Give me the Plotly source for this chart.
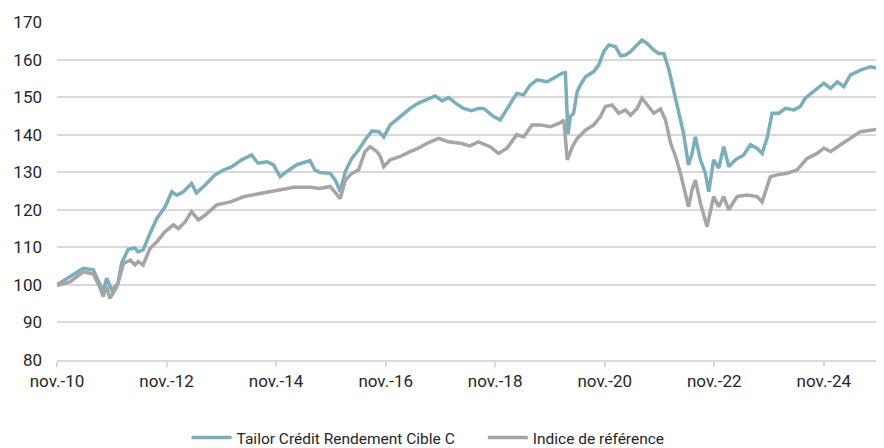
import plotly.graph_objects as go

fund_dates = ["2010-11-01","2011-01-26","2011-04-25","2011-07-01","2011-08-03","2011-09-05","2011-09-28","2011-11-01","2011-12-13","2012-01-06","2012-02-19","2012-04-04","2012-04-25","2012-05-28","2012-07-13","2012-08-28","2012-10-22","2012-12-06","2013-01-07","2013-02-21","2013-04-16","2013-05-19","2013-07-16","2013-09-19","2013-11-16","2014-01-10","2014-03-16","2014-05-22","2014-07-04","2014-09-01","2014-10-13","2014-11-28","2015-01-12","2015-03-19","2015-06-15","2015-07-18","2015-08-21","2015-10-28","2015-12-01","2016-01-03","2016-02-06","2016-03-20","2016-05-04","2016-06-16","2016-08-01","2016-09-16","2016-10-19","2016-12-01","2017-02-06","2017-04-13","2017-06-07","2017-08-04","2017-09-28","2017-11-13","2017-12-25","2018-02-09","2018-04-04","2018-05-28","2018-07-13","2018-08-16","2018-10-22","2018-12-04","2019-01-19","2019-03-25","2019-05-10","2019-06-22","2019-08-07","2019-10-13","2019-11-25","2020-01-22","2020-02-12","2020-03-01","2020-03-16","2020-04-07","2020-05-01","2020-05-22","2020-06-25","2020-08-19","2020-09-22","2020-10-25","2020-11-28","2021-01-12","2021-02-15","2021-03-19","2021-04-21","2021-05-25","2021-07-07","2021-08-10","2021-09-24","2021-10-27","2021-11-30","2022-01-03","2022-02-03","2022-03-07","2022-04-10","2022-05-13","2022-06-06","2022-06-28","2022-08-01","2022-09-03","2022-09-25","2022-10-28","2022-12-01","2023-01-03","2023-02-06","2023-03-22","2023-05-16","2023-06-30","2023-08-13","2023-09-16","2023-10-19","2023-11-22","2024-01-05","2024-02-19","2024-04-14","2024-05-28","2024-06-30","2024-08-25","2024-11-01","2024-12-16","2025-01-30","2025-03-14","2025-04-28","2025-07-03","2025-09-09","2025-10-24","2025-12-06"]
fund_values = [100,102.2,104.4,104,100.9,98.2,101.8,98.6,100.4,105.8,109.5,109.8,108.8,109.3,113.7,117.7,120.8,124.8,123.9,124.8,127,124.5,126.6,129.3,130.6,131.5,133.3,134.6,132.4,132.8,132,128.8,130.2,132,133.1,130.6,129.9,129.7,127.9,124.8,130.2,133.7,135.9,138.6,141,140.8,139.4,142.6,144.8,147,148.4,149.4,150.3,149,149.9,148.4,147,146.4,147,147,144.8,143.9,147,151,150.6,153.2,154.6,154.1,155,156.4,156.5,140.2,144.8,145.7,151.5,153.2,155.4,156.8,158.6,162.1,163.9,163.4,161,161.2,162.1,163.4,165.2,164.3,162.5,161.6,161.6,157.2,151.9,146.6,140.4,131.9,135,139.4,133.3,129.7,124.8,133.3,131.1,136.8,131.5,133.3,134.6,137.3,136.4,135,139,145.7,145.7,147,146.6,147.5,149.7,151.5,153.7,152.3,154.1,152.8,155.9,157.2,158.1,157.7,158.6]

bench_dates = ["2010-11-01","2011-01-26","2011-04-25","2011-07-01","2011-08-12","2011-09-05","2011-09-28","2011-10-20","2011-12-05","2012-01-19","2012-03-04","2012-04-04","2012-04-25","2012-05-28","2012-07-13","2012-08-28","2012-10-22","2012-12-17","2013-01-18","2013-03-05","2013-04-16","2013-06-01","2013-07-16","2013-10-02","2014-01-01","2014-04-01","2014-06-30","2014-09-17","2014-11-08","2015-02-28","2015-06-15","2015-08-21","2015-10-28","2015-12-01","2016-01-03","2016-02-06","2016-03-20","2016-05-04","2016-06-16","2016-07-20","2016-09-03","2016-09-26","2016-10-19","2016-12-01","2017-02-06","2017-04-13","2017-06-07","2017-08-04","2017-10-20","2017-12-25","2018-03-13","2018-05-18","2018-07-13","2018-09-28","2018-11-23","2019-01-19","2019-03-25","2019-05-10","2019-07-05","2019-08-30","2019-11-05","2020-01-11","2020-02-02","2020-02-25","2020-03-30","2020-05-01","2020-06-25","2020-08-19","2020-10-03","2020-11-05","2020-12-20","2021-02-02","2021-03-19","2021-04-21","2021-06-05","2021-07-07","2021-08-21","2021-09-24","2021-11-08","2021-12-11","2022-01-14","2022-02-16","2022-03-21","2022-05-13","2022-06-06","2022-06-28","2022-08-01","2022-09-14","2022-10-28","2022-12-01","2023-01-03","2023-02-06","2023-04-02","2023-06-07","2023-08-13","2023-09-16","2023-11-10","2023-12-25","2024-02-29","2024-05-06","2024-07-12","2024-09-17","2024-11-01","2024-12-16","2025-02-20","2025-04-28","2025-07-03","2025-09-09","2025-10-24","2025-12-06"]
bench_values = [99.8,100.8,103.5,102.9,99.5,96.9,99.5,96.4,99.5,105.7,106.6,105.3,106.2,105.3,109.7,111.5,114.2,116,115,116.8,119.5,117.3,118.6,121.3,122.1,123.5,124.2,124.8,125.3,126,126,125.7,126.2,124.4,123,127.9,129.7,130.6,135.5,136.8,135.5,134.2,131.5,133.3,134.2,135.5,136.4,137.7,139,138.1,137.7,137,138.1,136.8,135,136.4,140,139.4,142.6,142.6,142.1,143.2,143.9,133.3,136.8,139,141.2,142.6,144.8,147.5,147.9,145.7,146.6,145.2,147,149.7,147.5,145.7,146.8,143.9,137.7,134.2,129.7,120.8,125.3,127.9,121.7,115.5,123.5,120.8,123.5,120,123.5,123.9,123.5,122.1,128.8,129.3,129.7,130.6,133.7,135,136.4,135.5,137.3,139,140.8,141.2,141.4,142]

tick_dates = ["2010-11-01","2012-11-01","2014-11-01","2016-11-01","2018-11-01","2020-11-01","2022-11-01","2024-11-01"]
tick_labels = ["nov.-10","nov.-12","nov.-14","nov.-16","nov.-18","nov.-20","nov.-22","nov.-24"]
y_ticks = [80,90,100,110,120,130,140,150,160,170]
series_names = ["Tailor Crédit Rendement Cible C", "Indice de référence"]

pad = "\u00a0" * 6
fig = go.Figure()
fig.add_trace(go.Scatter(x=fund_dates, y=fund_values, mode="lines",
                         name=series_names[0] + pad,
                         line=dict(color="#7aaebb", width=3.5)))
fig.add_trace(go.Scatter(x=bench_dates, y=bench_values, mode="lines",
                         name=series_names[1],
                         line=dict(color="#a5a5a5", width=3.5)))

fig.update_layout(
    width=876, height=440,
    margin=dict(l=49, r=0, t=14, b=88),
    paper_bgcolor="white", plot_bgcolor="white",
    font=dict(family="Roboto", size=17, color="#262626"),
    showlegend=True,
    legend=dict(orientation="h", xref="container", x=0.4795, xanchor="center",
                yref="container", y=0.023, yanchor="middle",
                font=dict(size=15.5, color="#262626"), itemwidth=40),
)
fig.update_xaxes(
    type="date", range=["2010-11-01", "2025-12-07"],
    tickvals=tick_dates, ticktext=tick_labels,
    showgrid=False, showline=True, linecolor="#d9d9d9", linewidth=1.5,
    ticks="outside", ticklen=5, tickcolor="#d9d9d9", tickwidth=1.5,
    tickfont=dict(size=17, color="#262626"),
)
fig.update_yaxes(
    range=[80, 170], tickvals=y_ticks,
    showgrid=True, gridcolor="#d9d9d9", gridwidth=1.5,
    zeroline=False, showline=False, ticks="",
    ticklabelstandoff=14,
    tickfont=dict(size=17, color="#262626"),
)

fig.write_html("out.html")
